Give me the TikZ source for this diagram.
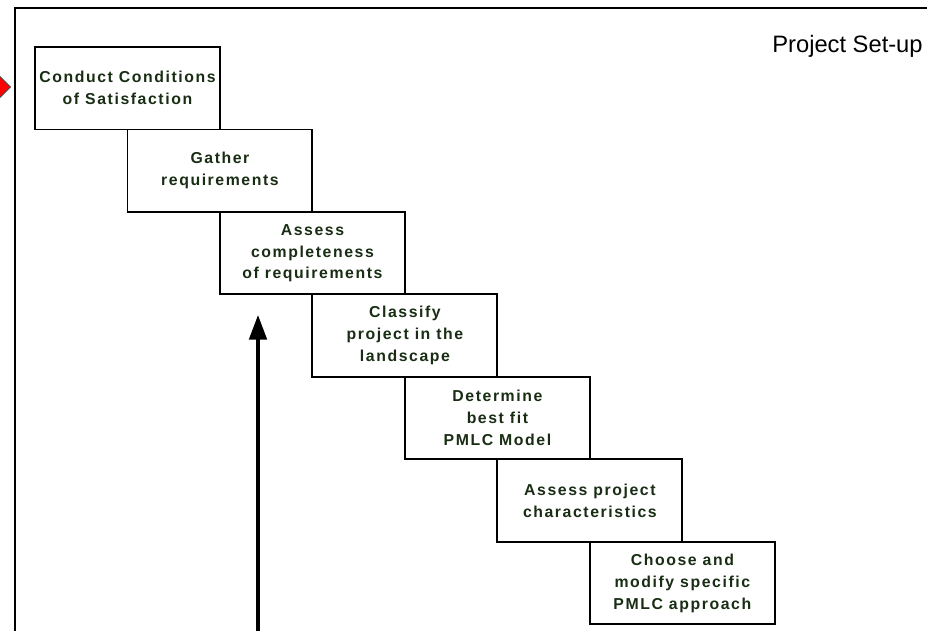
\documentclass[tikz,border=0pt]{standalone}
\usepackage{fontspec}
\setmainfont{Liberation Sans}
\newfontfamily\stepfont{Liberation Sans}[LetterSpace=10]
\usetikzlibrary{positioning,shapes.geometric,arrows.meta}
\definecolor{steptext}{RGB}{25,45,20}
\tikzset{
  stepbox/.style={draw, line width=1.1pt, fill=white, anchor=north west,
    minimum width=3.7cm, minimum height=1.65cm, inner sep=1pt, outer sep=0pt,
    align=center, text=steptext, font=\stepfont\bfseries\fontsize{9}{12.5}\selectfont},
  frameline/.style={line width=1.1pt, line cap=rect}
}
\begin{document}
\begin{tikzpicture}[x=0.02cm, y=-0.02cm]
\useasboundingbox (0,0) rectangle (927,630);
% outer frame, runs off the page to the right and bottom
\coordinate (fnw) at (15,8);
\coordinate (fne) at (940,8);
\coordinate (fsw) at (15,640);
\draw[frameline] (fsw) -- (fnw) -- (fne);
\node[diamond, draw=black!70, fill=red, line width=0.6pt, minimum size=0.42cm, inner sep=0pt] (entry) at (0,87) {};
\node[anchor=base east, inner sep=0pt, font=\fontsize{13.5}{15}\selectfont] (title) at (923,52) {Project Set-up};
% the staircase
\node[stepbox] (cos) at (35,47) {Conduct Conditions\\of Satisfaction};
\node[stepbox] (gather) at (cos.south) {Gather\\requirements};
\node[stepbox] (assess) at (gather.south) {Assess\\completeness\\of requirements};
\node[stepbox] (classify) at (assess.south) {Classify\\project in the\\landscape};
\node[stepbox] (bestfit) at (classify.south) {Determine\\best fit\\PMLC Model};
\node[stepbox] (charact) at (bestfit.south) {Assess project\\characteristics};
\node[stepbox] (modify) at (charact.south) {Choose and\\modify specific\\PMLC approach};
% feedback arrow from below
\coordinate (loopfoot) at (258,640);
\coordinate (looptip) at (258,315);
\draw[line width=1.8pt, -{Triangle[length=14pt, width=10pt]}] (loopfoot) -- (looptip);
\end{tikzpicture}
\end{document}
